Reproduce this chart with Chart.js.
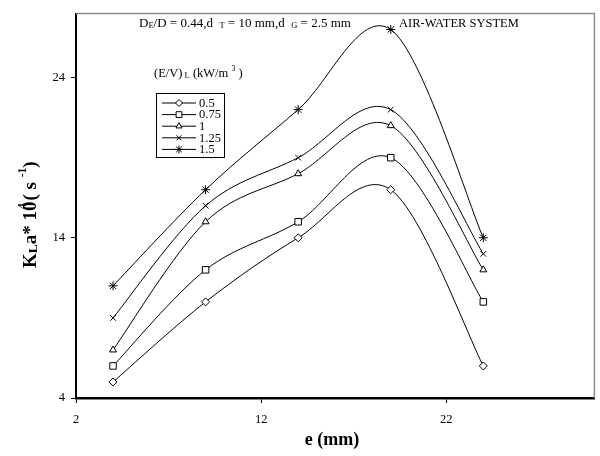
<!DOCTYPE html>
<html><head><meta charset="utf-8">
<script src="https://cdn.jsdelivr.net/npm/chart.js@4"></script>
<style>html,body{margin:0;padding:0;background:#fff;} canvas{display:block;}</style>
</head><body>
<canvas id="c" width="600" height="456"></canvas>
<script>
// ---- data ----
const eValues = [4, 9, 14, 19, 24];
const seriesLabels = ['0.5', '0.75', '1', '1.25', '1.5'];
const kla_05  = [5, 10, 14, 17, 6];
const kla_075 = [6, 12, 15, 19, 10];
const kla_1   = [7, 15, 18, 21, 12];
const kla_125 = [9, 16, 19, 22, 13];
const kla_15  = [11, 17, 22, 27, 14];
const xTicks = [2, 12, 22];
const yTicks = [4, 14, 24];

const seriesValues = [kla_05, kla_075, kla_1, kla_125, kla_15];
const markerStyles = ['rectRot', 'rect', 'triangle', 'crossRot', 'star'];
const markerRadii = [4, 4.6, 4, 4, 4.5];

const SERIF = '"Liberation Serif", "DejaVu Serif", serif';

const datasets = seriesValues.map((vals, i) => ({
  label: seriesLabels[i],
  data: eValues.map((x, j) => ({x: x, y: vals[j]})),
  borderColor: '#000',
  borderWidth: 1,
  backgroundColor: '#fff',
  pointStyle: markerStyles[i],
  pointRadius: markerRadii[i],
  pointBorderColor: '#000',
  pointBackgroundColor: '#fff',
  pointBorderWidth: 1,
  tension: 0.35,
  fill: false
}));

function drawRich(ctx, x, y, parts) {
  let cx = x;
  for (const p of parts) {
    ctx.font = (p.bold ? 'bold ' : '') + p.size + 'px ' + SERIF;
    ctx.fillText(p.t, cx + (p.dx || 0), y + (p.dy || 0));
    const w = ctx.measureText(p.t).width;
    cx += (p.adv !== undefined ? p.adv : w + (p.gap || 0));
  }
  return cx;
}

// Excel-style (Catmull-Rom) smoothing of the line's bezier control points
const excelSpline = {
  id: 'excelSpline',
  beforeDatasetDraw(chart, args) {
    const meta = args.meta;
    const line = meta.dataset;
    const pts = meta.data;
    if (!line || !pts || pts.length < 2) return;
    line.updateControlPoints(chart.chartArea, 'x');
    const n = pts.length;
    for (let i = 0; i < n; i++) {
      const p = pts[i];
      const prev = pts[Math.max(i - 1, 0)];
      const next = pts[Math.min(i + 1, n - 1)];
      const dx = (next.x - prev.x) / 6, dy = (next.y - prev.y) / 6;
      p.cp1x = p.x - dx; p.cp1y = p.y - dy;
      p.cp2x = p.x + dx; p.cp2y = p.y + dy;
    }
  }
};

const decor = {
  id: 'decor',
  beforeDraw(chart) {
    const ctx = chart.ctx;
    ctx.save();
    ctx.fillStyle = '#fff';
    ctx.fillRect(0, 0, chart.width, chart.height);
    ctx.restore();
  },
  afterDraw(chart) {
    const ctx = chart.ctx;
    const a = chart.chartArea;
    ctx.save();
    // top / right frame
    ctx.strokeStyle = '#8a8a8a';
    ctx.lineWidth = 1.5;
    ctx.beginPath();
    ctx.moveTo(a.left, a.top);
    ctx.lineTo(a.right, a.top);
    ctx.lineTo(a.right, a.bottom);
    ctx.stroke();

    ctx.fillStyle = '#000';
    ctx.textBaseline = 'alphabetic';
    ctx.textAlign = 'left';
    // header annotation
    drawRich(ctx, 139, 27, [
      {t: 'D', size: 13}, {t: 'E', size: 8.5, dy: 0.5}, {t: '/D = 0.44,d  ', size: 13},
      {t: 'T', size: 8.5, dy: 0.5}, {t: ' = 10 mm,d  ', size: 13},
      {t: 'G', size: 8.5, dy: 0.5}, {t: ' = 2.5 mm', size: 13}
    ]);
    drawRich(ctx, 399, 27, [{t: 'AIR-WATER SYSTEM', size: 12.5}]);
    // legend title
    drawRich(ctx, 154, 77, [
      {t: '(E/V)', size: 12.5}, {t: ' L', size: 8.5, dy: 0.5}, {t: ' (kW/m ', size: 12.5},
      {t: '3', size: 8, dy: -6}, {t: ' )', size: 12.5}
    ]);
    // legend box
    ctx.strokeStyle = '#000';
    ctx.lineWidth = 1;
    ctx.strokeRect(156.5, 93.5, 68, 64);
    const rowY0 = 103, rowStep = 11.6;
    chart.data.datasets.forEach((ds, i) => {
      const yy = rowY0 + i * rowStep;
      ctx.strokeStyle = '#000';
      ctx.lineWidth = 1;
      ctx.beginPath();
      ctx.moveTo(162, yy);
      ctx.lineTo(196, yy);
      ctx.stroke();
      ctx.fillStyle = '#fff';
      Chart.helpers.drawPoint(ctx, {pointStyle: ds.pointStyle, radius: ds.pointRadius - 0.5, borderWidth: 1, rotation: 0}, 179, yy);
      ctx.fillStyle = '#000';
      ctx.font = '12.5px ' + SERIF;
      ctx.textBaseline = 'middle';
      ctx.fillText(ds.label, 199, yy + 0.5);
      ctx.textBaseline = 'alphabetic';
    });
    // x title
    ctx.fillStyle = '#000';
    ctx.font = 'bold 18px ' + SERIF;
    ctx.textAlign = 'center';
    ctx.textBaseline = 'middle';
    ctx.fillText('e (mm)', 332, 440);
    // y title (rotated)
    ctx.translate(36, 268);
    ctx.rotate(-Math.PI / 2);
    ctx.textAlign = 'left';
    ctx.textBaseline = 'alphabetic';
    drawRich(ctx, 0, 0, [
      {t: 'K', size: 19, bold: true}, {t: 'L', size: 13.5, bold: true, dy: 1},
      {t: 'a* 10', size: 19, bold: true},
      {t: '4', size: 11.5, bold: true, dy: -10, dx: -7.5, adv: 1},
      {t: '( s ', size: 19, bold: true},
      {t: '-1', size: 11.5, bold: true, dy: -10},
      {t: ')', size: 19, bold: true}
    ]);
    ctx.restore();
  }
};

new Chart(document.getElementById('c'), {
  type: 'line',
  data: {datasets: datasets},
  options: {
    responsive: false,
    animation: false,
    devicePixelRatio: 1,
    layout: {padding: {top: 9, right: 2, left: 0, bottom: 0}},
    plugins: {legend: {display: false}, tooltip: {enabled: false}},
    scales: {
      x: {
        type: 'linear', min: 2, max: 30,
        afterBuildTicks: s => { s.ticks = xTicks.map(v => ({value: v})); },
        afterFit: s => { s.height = 58; },
        border: {color: '#000', width: 2.5},
        grid: {drawOnChartArea: false, drawTicks: true, tickLength: 5, color: '#000', lineWidth: 1},
        ticks: {color: '#000', font: {family: SERIF, size: 12.5}, padding: 9, maxRotation: 0}
      },
      y: {
        type: 'linear', min: 4, max: 28,
        afterBuildTicks: s => { s.ticks = yTicks.map(v => ({value: v})); },
        afterFit: s => { s.width = 76; },
        border: {color: '#000', width: 2},
        grid: {drawOnChartArea: false, drawTicks: true, tickLength: 5, color: '#000', lineWidth: 1},
        ticks: {color: '#000', font: {family: SERIF, size: 12.5}, padding: 6}
      }
    }
  },
  plugins: [excelSpline, decor]
});
</script>
</body></html>
